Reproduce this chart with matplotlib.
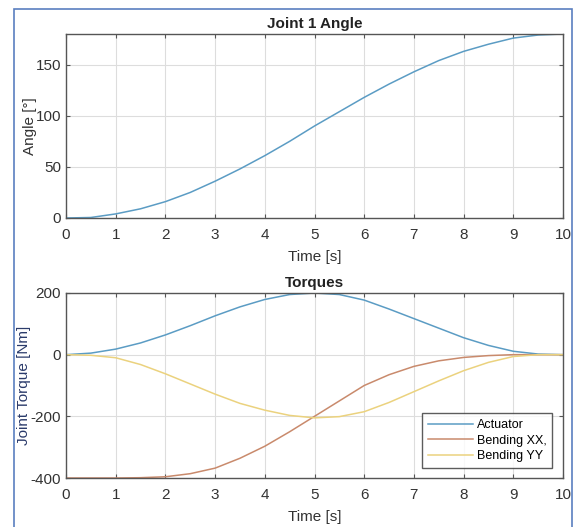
import matplotlib
matplotlib.use("Agg")
import matplotlib.pyplot as plt
from matplotlib.patches import Rectangle

plt.rcParams["font.family"] = ["Liberation Sans", "DejaVu Sans"]
plt.rcParams["axes.unicode_minus"] = False

# data (every 0.5 s)
t = [0, 0.5, 1, 1.5, 2, 2.5, 3, 3.5, 4, 4.5, 5, 5.5, 6, 6.5, 7, 7.5, 8, 8.5, 9, 9.5, 10]
angle = [0, 0.5, 4, 9, 16, 25, 36, 48, 61, 75, 90, 104, 118, 131, 143, 154, 163, 170, 176, 179, 180]
actuator = [0, 5, 18, 38, 64, 94, 126, 155, 179, 195, 200, 195, 177, 148, 117, 86, 55, 30, 11, 2, 0]
bending_xx = [-400, -400, -400, -399, -396, -386, -368, -336, -297, -250, -200, -150, -100, -65, -38, -20, -9, -3, 0, 0, 0]
bending_yy = [0, -2, -10, -32, -62, -95, -128, -158, -180, -197, -205, -201, -185, -155, -120, -85, -52, -25, -6, 0, 0]

c_blue = "#5b9cc4"
c_orange = "#c98a6c"
c_yellow = "#ebd27e"
ax_col = "#555555"

fig = plt.figure(figsize=(5.78, 5.27), dpi=100)
W, H = 578, 527

# blue window frame
fig.patches.append(Rectangle((14 / W, -0.01), (572 - 14) / W, 1 - 9 / H + 0.01,
                             transform=fig.transFigure, fill=False,
                             edgecolor="#5a7fc0", linewidth=1.2))

ax1 = fig.add_axes([66 / W, 1 - 218 / H, (563 - 66) / W, (218 - 34) / H])
ax2 = fig.add_axes([66 / W, 1 - 478 / H, (563 - 66) / W, (478 - 293) / H])


def style(ax):
    ax.grid(True, color="#dddddd", linewidth=0.8)
    ax.set_axisbelow(True)
    for s in ax.spines.values():
        s.set_color(ax_col)
        s.set_linewidth(1.0)
    ax.tick_params(direction="in", colors=ax_col, labelcolor="#333333",
                   labelsize=11, length=3, top=True, right=True,
                   labeltop=False, labelright=False)
    ax.tick_params(axis="x", pad=7)
    ax.set_xlim(0, 10)
    ax.set_xticks(range(0, 11))


ax1.plot(t, angle, color=c_blue, linewidth=1.1)
style(ax1)
ax1.set_ylim(0, 180)
ax1.set_yticks([0, 50, 100, 150])
ax1.set_title("Joint 1 Angle", fontsize=11, fontweight="bold", color="#222222", pad=4)
ax1.set_xlabel("Time [s]", fontsize=11, color="#333333", labelpad=6)
ax1.set_ylabel("Angle [°]", fontsize=11, color="#333333", labelpad=-1)

ax2.plot(t, actuator, color=c_blue, linewidth=1.1, label="Actuator")
ax2.plot(t, bending_xx, color=c_orange, linewidth=1.1, label="Bending XX,")
ax2.plot(t, bending_yy, color=c_yellow, linewidth=1.1, label="Bending YY")
style(ax2)
ax2.set_ylim(-400, 200)
ax2.set_yticks([-400, -200, 0, 200])
ax2.set_title("Torques", fontsize=11, fontweight="bold", color="#222222", pad=4)
ax2.set_xlabel("Time [s]", fontsize=11, color="#333333", labelpad=6)
ax2.set_ylabel("Joint Torque [Nm]", fontsize=11, color="#2a3a6a", labelpad=0)
leg = ax2.legend(loc="lower right", fontsize=9, frameon=True, fancybox=False,
                 edgecolor="#333333", handlelength=3.6, borderpad=0.45,
                 labelspacing=0.3, handletextpad=0.3, borderaxespad=0,
                 bbox_to_anchor=(0.978, 0.054))
leg.get_frame().set_linewidth(1.0)

fig.savefig("out.png", dpi=100, facecolor="white")
